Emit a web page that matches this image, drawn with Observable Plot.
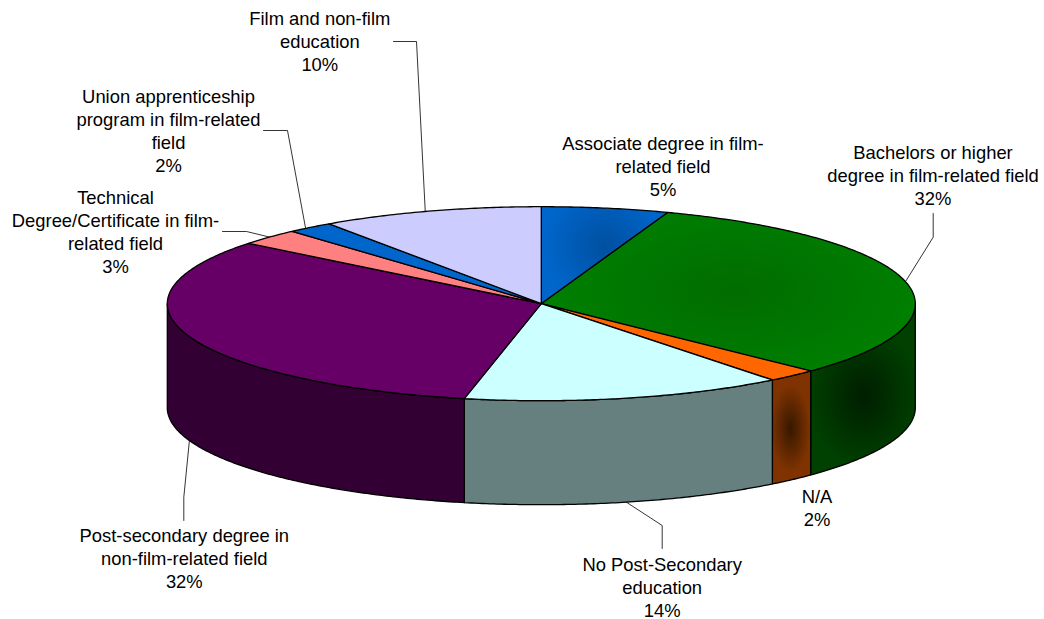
<!DOCTYPE html>
<html>
<head>
<meta charset="utf-8">
<script src="https://cdn.jsdelivr.net/npm/d3@7"></script>
<script src="https://cdn.jsdelivr.net/npm/@observablehq/plot@0.6"></script>
<style>html,body{margin:0;padding:0;background:#fff}svg{display:block}</style>
</head>
<body>
<div id="chart"></div>
<script>
// Data
const categories = [
  "Associate degree in film-\nrelated field",
  "Bachelors or higher\ndegree in film-related field",
  "N/A",
  "No Post-Secondary\neducation",
  "Post-secondary degree in\nnon-film-related field",
  "Technical\nDegree/Certificate in film-\nrelated field",
  "Union apprenticeship\nprogram in film-related\nfield",
  "Film and non-film\neducation"
];
const values = [5.49, 31.71, 2.2, 13.9, 32.4, 2.7, 2.0, 9.6];

// Styles
const topColors  = ["url(#gAssocTop)", "url(#gBachTop)", "#FF6600", "#CCFFFF", "#660066", "#FF8080", "#0066CC", "#CCCCFF"];
const sideColors = ["#003366", "url(#gBachSide)", "url(#gNASide)", "#668080", "#330033", "#804040", "#003366", "#666680"];

// Layout of the tilted pie and its annotation
const pie = {cx: 540.8, cy: 303.2, rx: 374, ry: 97, depth: 104};
const labelPos = [[662.5, 143], [932.5, 152], [816.5, 496], [661.7, 564], [183.8, 535], [115, 197], [168, 96], [319.3, 18]];
const leaderKnees = [null, [[932.7, 236.7], [932.7, 213]], null, [[661.7, 525], [661.7, 548]], [[183.3, 496.7], [183.3, 520]], [[246, 231], [222, 231]], [[287, 130], [263, 130]], [[416, 41], [393, 41]]];
const leaderOnSide = [false, false, false, true, true, false, false, false];
const leaderAlong = [0.5, 0.5, 0.5, 0.5, 0.5, 0.5, 0.375, 0.477];

// Derived geometry
const total = d3.sum(values);
const cum = d3.cumsum(values);
const toAngle = (p) => (p / total) * 2 * Math.PI;
const slices = values.map((v, i) => ({i, a0: toAngle(i ? cum[i - 1] : 0), a1: toAngle(cum[i])}));
const rim = (a, drop = 0) => ({x: pie.cx + pie.rx * Math.sin(a), y: pie.cy - pie.ry * Math.cos(a) + drop});
const arc = (a0, a1, drop = 0) => {
  const n = Math.max(2, Math.ceil((a1 - a0) / 0.01));
  return d3.range(n + 1).map((k) => rim(a0 + (a1 - a0) * k / n, drop));
};
const wedge = (s) => {
  const c = {x: pie.cx, y: pie.cy};
  return [c, ...arc(s.a0, s.a1), c];
};
const wall = (s) => {
  const a0 = Math.max(s.a0, Math.PI / 2), a1 = Math.min(s.a1, 3 * Math.PI / 2);
  if (a1 <= a0) return null;
  const top = arc(a0, a1), bottom = arc(a0, a1, pie.depth).reverse();
  return [...top, ...bottom, top[0]];
};

const defs = () => {
  const svg = d3.create("svg:defs");
  const radial = (id, cx, cy, r, stops, sy) => {
    const g = svg.append("radialGradient").attr("id", id).attr("gradientUnits", "userSpaceOnUse")
      .attr("cx", cx).attr("cy", cy).attr("r", r)
      .attr("gradientTransform", `translate(${cx} ${cy}) scale(1 ${sy}) translate(${-cx} ${-cy})`);
    stops.forEach(([o, c]) => g.append("stop").attr("offset", o).attr("stop-color", c));
  };
  radial("gAssocTop", 604, 245, 62, [[0, "#0050A0"], [1, "#0066CC"]], 1);
  radial("gBachTop", 735, 290, 190, [[0, "#006C00"], [1, "#008000"]], 0.5);
  radial("gBachSide", 863, 395, 55, [[0, "#001E00"], [1, "#004000"]], 1.3);
  radial("gNASide", 790, 428, 20, [[0, "#361800"], [1, "#803300"]], 2.2);
  return svg.node();
};

const leaders = slices.flatMap((s, i) => {
  if (!leaderKnees[i]) return [];
  const a = s.a0 + (s.a1 - s.a0) * leaderAlong[i];
  return [[rim(a, leaderOnSide[i] ? pie.depth : 0), ...leaderKnees[i].map(([x, y]) => ({x, y}))]];
});
const labels = slices.map((s, i) => ({
  x: labelPos[i][0], y: labelPos[i][1],
  text: `${categories[i]}\n${Math.round(values[i])}%`
}));

const edge = {stroke: "#000", strokeWidth: 1.3, strokeLinejoin: "round", x: "x", y: "y"};
const chart = Plot.plot({
  width: 1044, height: 619, margin: 0,
  style: {background: "#fff"},
  x: {domain: [0, 1044], range: [0, 1044], axis: null},
  y: {domain: [0, 619], range: [0, 619], axis: null},
  marks: [
    defs,
    ...slices.map((s, i) => wall(s) && Plot.line(wall(s), {...edge, fill: sideColors[i]})).filter(Boolean),
    ...slices.map((s, i) => Plot.line(wedge(s), {...edge, fill: topColors[i]})),
    ...leaders.map((pts) => Plot.line(pts, {x: "x", y: "y", stroke: "#000", strokeWidth: 0.8})),
    Plot.text(labels, {
      x: "x", y: "y", text: "text", lineAnchor: "top", dy: -9.5, lineHeight: 1.25,
      fontFamily: "Liberation Sans, Arial, sans-serif", fontSize: 18.4, fill: "#000"
    })
  ]
});
document.getElementById("chart").append(chart);
</script>
</body>
</html>
